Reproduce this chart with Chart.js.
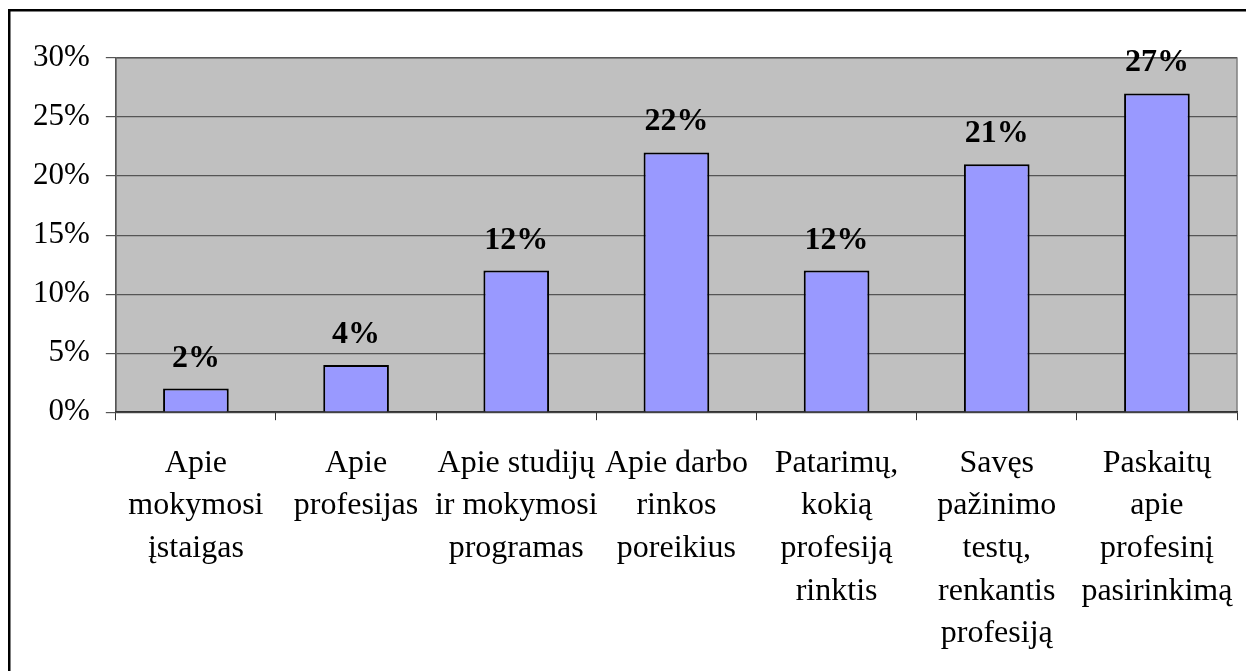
<!DOCTYPE html>
<html>
<head>
<meta charset="utf-8">
<title>Informacijos poreikis</title>
<script src="https://cdn.jsdelivr.net/npm/chart.js@4.4.1/dist/chart.umd.min.js"></script>
<style>
    html, body { margin: 0; padding: 0; background: #fff; }
    canvas { display: block; }
</style>
</head>
<body>
<canvas id="surveyChart" width="1246" height="671"></canvas>
<script>
// category labels, already split into lines like the original
const categories = [
    ['Apie', 'mokymosi', 'įstaigas'],
    ['Apie', 'profesijas'],
    ['Apie studijų', 'ir mokymosi', 'programas'],
    ['Apie darbo', 'rinkos', 'poreikius'],
    ['Patarimų,', 'kokią', 'profesiją', 'rinktis'],
    ['Savęs', 'pažinimo', 'testų,', 'renkantis', 'profesiją'],
    ['Paskaitų', 'apie', 'profesinį', 'pasirinkimą']
];
const percentValues = [2, 4, 12, 22, 12, 21, 27];
const yTicks = [0, 5, 10, 15, 20, 25, 30];

const serif = '"Liberation Serif", "Times New Roman", serif';

// grey plot area + outer frame
const backdrop = {
    id: 'backdrop',
    beforeDraw(chart) {
        const ctx = chart.ctx;
        const a = chart.chartArea;
        ctx.save();
        ctx.fillStyle = '#fff';
        ctx.fillRect(0, 0, chart.width, chart.height);
        ctx.fillStyle = '#000';
        ctx.fillRect(8, 9, chart.width - 8, 2.5);
        ctx.fillRect(8, 9, 2.5, chart.height - 9);
        ctx.fillStyle = '#c0c0c0';
        ctx.fillRect(a.left, a.top, a.right - a.left, a.bottom - a.top);
        ctx.strokeStyle = '#808080';
        ctx.lineWidth = 1.5;
        ctx.strokeRect(a.left, a.top, a.right - a.left, a.bottom - a.top);
        ctx.restore();
    }
};

// bold value labels above the bars
const valueLabels = {
    id: 'valueLabels',
    afterDatasetsDraw(chart) {
        const ctx = chart.ctx;
        const meta = chart.getDatasetMeta(0);
        ctx.save();
        ctx.font = 'bold 32px ' + serif;
        ctx.fillStyle = '#000';
        ctx.textAlign = 'center';
        ctx.textBaseline = 'alphabetic';
        meta.data.forEach((bar, i) => {
            ctx.fillText(percentValues[i] + '%', bar.x, bar.y - 22);
        });
        ctx.restore();
    }
};

const ctx = document.getElementById('surveyChart').getContext('2d');
new Chart(ctx, {
    type: 'bar',
    data: {
        labels: categories,
        datasets: [{
            data: percentValues,
            backgroundColor: '#9999ff',
            borderColor: '#000',
            borderWidth: 2,
            categoryPercentage: 1,
            barPercentage: 0.41
        }]
    },
    options: {
        responsive: false,
        animation: false,
        devicePixelRatio: 1,
        layout: { padding: { top: 58, right: 9, bottom: -6, left: 17 } },
        plugins: {
            legend: { display: false },
            tooltip: { enabled: false }
        },
        scales: {
            y: {
                min: 0,
                max: 30,
                afterBuildTicks(scale) {
                    scale.ticks = yTicks.map(v => ({ value: v }));
                },
                ticks: {
                    font: { family: serif, size: 31 },
                    color: '#000',
                    padding: 16,
                    callback: v => v + '%'
                },
                grid: {
                    color: '#555',
                    lineWidth: 1.2,
                    tickLength: 10
                },
                border: { color: '#555', width: 1.5 }
            },
            x: {
                afterFit(scale) {
                    // labels may spill a little past the plot edge, like the original
                    scale.paddingLeft = 0;
                    scale.paddingRight = 0;
                },
                ticks: {
                    font: { family: serif, size: 32, lineHeight: 1.33 },
                    color: '#000',
                    padding: 22,
                    maxRotation: 0,
                    autoSkip: false
                },
                grid: {
                    display: true,
                    drawOnChartArea: false,
                    offset: true,
                    color: '#333',
                    tickLength: 8
                },
                border: { color: '#333', width: 1.5 }
            }
        }
    },
    plugins: [backdrop, valueLabels]
});
</script>
</body>
</html>
